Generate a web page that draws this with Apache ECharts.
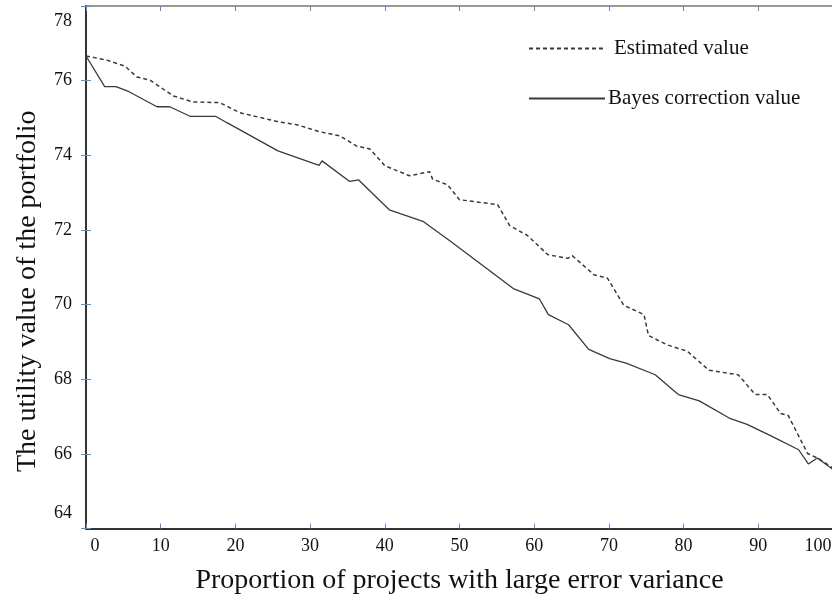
<!DOCTYPE html>
<html>
<head>
<meta charset="utf-8">
<script src="https://cdn.jsdelivr.net/npm/echarts@6/dist/echarts.min.js"></script>
<style>
  html, body { margin: 0; padding: 0; background: #fff; }
  #main { width: 832px; height: 594px; }
</style>
</head>
<body>
<div id="main"></div>
<script>
// values
var estX = [0, 2.8, 5.2, 6.8, 8.6, 11.7, 14.3, 17.9, 20.6, 25.7, 28.2, 31.3, 34.0, 36.2, 38.0, 40.0, 43.3, 46.0, 46.4, 48.4,
  50.0, 55.1, 56.7, 59.1, 61.8, 64.5, 65.1, 68.0, 69.8, 72.0, 74.7, 75.3, 77.8, 80.5, 83.4, 87.3, 89.6, 91.2, 93.0, 94.0,
  96.6, 97.9, 100];
var estY = [76.66, 76.55, 76.39, 76.10, 76.01, 75.59, 75.43, 75.41, 75.14, 74.90, 74.82, 74.63, 74.52, 74.25, 74.17, 73.72, 73.45, 73.56, 73.36, 73.21,
  72.81, 72.68, 72.12, 71.85, 71.34, 71.24, 71.31, 70.80, 70.71, 69.98, 69.73, 69.17, 68.92, 68.75, 68.24, 68.12, 67.59, 67.59, 67.08, 67.03,
  66.01, 65.89, 65.62];

var bayesX = [0, 2.5, 4.0, 5.7, 9.5, 11.2, 14.0, 17.4, 18.8, 25.7, 31.2, 31.6, 35.3, 36.5, 40.6, 45.1, 48.7, 57.2, 60.7, 61.9,
  64.6, 67.3, 70.1, 72.3, 76.2, 79.3, 82.1, 86.1, 88.5, 91.7, 95.4, 96.7, 97.9, 100];
var bayesY = [76.66, 75.84, 75.84, 75.71, 75.30, 75.30, 75.04, 75.04, 74.88, 74.12, 73.73, 73.85, 73.30, 73.34, 72.54, 72.23, 71.71, 70.43, 70.15, 69.73,
  69.46, 68.80, 68.55, 68.43, 68.12, 67.59, 67.42, 66.96, 66.79, 66.48, 66.11, 65.73, 65.89, 65.58];

var seriesNames = ['Estimated value', 'Bayes correction value'];
var xTitle = 'Proportion of projects with large error variance';
var yTitle = 'The utility value of the portfolio';

function pairs(xs, ys) {
  return xs.map(function (x, i) { return [x, ys[i]]; });
}

var serif = 'Liberation Serif';
var tickBlue = '#5b8bd6';
var lab = { fontFamily: serif, fontSize: 18, color: '#111' };

var chart = echarts.init(document.getElementById('main'));
chart.setOption({
  backgroundColor: '#fff',
  animation: false,
  grid: { left: 86, top: 6, right: -1, bottom: 65.5, outerBoundsMode: 'none' },
  legend: {
    orient: 'vertical',
    left: 528,
    top: 38,
    padding: 0,
    itemWidth: 76,
    itemHeight: 14,
    itemGap: 29,
    itemStyle: { opacity: 0 },
    textStyle: { fontFamily: serif, fontSize: 21, color: '#111' },
    data: [
      { name: seriesNames[0], textStyle: { padding: [0, 0, 0, 4] } },
      { name: seriesNames[1], textStyle: { padding: [0, 0, 0, -2] } }
    ]
  },
  xAxis: [
    {
      type: 'value',
      min: 0, max: 100, interval: 10,
      name: xTitle,
      nameLocation: 'middle',
      nameGap: 38,
      nameTextStyle: { fontFamily: serif, fontSize: 28, color: '#111' },
      axisLine: { lineStyle: { color: '#333', width: 2 } },
      axisTick: { inside: true, length: 5, lineStyle: { color: tickBlue } },
      axisLabel: {
        margin: 9,
        formatter: function (v) {
          if (v === 0) return '{a|0}';
          if (v === 100) return '{b|100}';
          return '{n|' + v + '}';
        },
        rich: {
          a: Object.assign({ padding: [0, 0, 0, 18] }, lab),
          b: Object.assign({ padding: [0, 30, 0, 0] }, lab),
          n: lab
        }
      },
      splitLine: { show: false }
    },
    {
      type: 'value',
      position: 'top',
      min: 0, max: 100, interval: 10,
      axisLine: { show: true, lineStyle: { color: '#777', width: 1.5 } },
      axisTick: { inside: true, length: 5, lineStyle: { color: tickBlue } },
      axisLabel: { show: false },
      splitLine: { show: false }
    }
  ],
  yAxis: [
    {
      type: 'value',
      min: 64, max: 78, interval: 2,
      name: yTitle,
      nameLocation: 'middle',
      nameGap: 44,
      nameTextStyle: { fontFamily: serif, fontSize: 28, color: '#111', padding: [0, 48, 0, 0] },
      axisLine: { show: true, lineStyle: { color: '#333', width: 2 } },
      axisTick: { show: true, inside: true, length: 5, lineStyle: { color: tickBlue } },
      axisLabel: {
        margin: 14,
        formatter: function (v) {
          if (v === 78) return '{t|78}';
          if (v === 64) return '{m|64}';
          return '{n|' + v + '}';
        },
        rich: {
          t: Object.assign({ padding: [30, 0, 0, 0] }, lab),
          m: Object.assign({ padding: [0, 0, 30, 0] }, lab),
          n: lab
        }
      },
      splitLine: { show: false }
    },
    {
      type: 'value',
      position: 'right',
      min: 64, max: 78, interval: 2,
      axisLine: { show: true, lineStyle: { color: '#333', width: 2 } },
      axisTick: { show: true, inside: true, length: 5, lineStyle: { color: tickBlue } },
      axisLabel: { show: false },
      splitLine: { show: false }
    }
  ],
  series: [
    {
      name: seriesNames[0],
      type: 'line',
      symbol: 'none',
      data: pairs(estX, estY),
      lineStyle: { color: '#3a3a3a', width: 1.5, type: [4, 3] },
      itemStyle: { color: '#3a3a3a' }
    },
    {
      name: seriesNames[1],
      type: 'line',
      symbol: 'none',
      data: pairs(bayesX, bayesY),
      lineStyle: { color: '#3a3a3a', width: 1.3 },
      itemStyle: { color: '#3a3a3a' }
    }
  ]
});
</script>
</body>
</html>
